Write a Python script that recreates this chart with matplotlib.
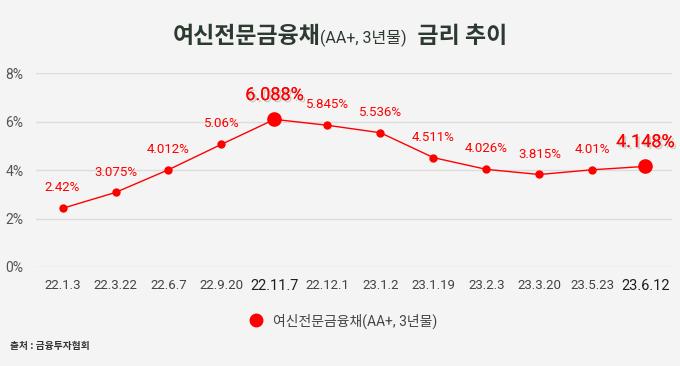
import matplotlib.pyplot as plt
import matplotlib.patheffects as pe
from matplotlib.offsetbox import TextArea, HPacker, AnchoredOffsetbox
from matplotlib.lines import Line2D

plt.rcParams['font.family'] = ['Roboto', 'Noto Sans CJK KR', 'DejaVu Sans']

# 데이터
dates = ['22.1.3', '22.3.22', '22.6.7', '22.9.20', '22.11.7', '22.12.1',
         '23.1.2', '23.1.19', '23.2.3', '23.3.20', '23.5.23', '23.6.12']
rates = [2.42, 3.075, 4.012, 5.06, 6.088, 5.845, 5.536, 4.511, 4.026, 3.815, 4.01, 4.148]
labels = ['2.42%', '3.075%', '4.012%', '5.06%', '6.088%', '5.845%',
          '5.536%', '4.511%', '4.026%', '3.815%', '4.01%', '4.148%']
highlight = ['22.11.7', '23.6.12']

bg = '#f3f4f3'
red = '#ff0000'

fig = plt.figure(figsize=(6.8, 3.66), dpi=100, facecolor=bg)
ax = fig.add_axes([0.053, 0.2705, 0.935, 0.53], facecolor=bg)

x = list(range(len(dates)))
ax.plot(x, rates, color=red, lw=1.0, zorder=3)
for i, d in enumerate(dates):
    big = d in highlight
    ax.plot(i, rates[i], 'o', color=red, ms=9.5 if big else 5, zorder=4)
    if big:
        ax.annotate(labels[i], (i, rates[i]), xytext=(0, 11), textcoords='offset points',
                    ha='center', va='bottom', color=red, fontsize=13,
                    path_effects=[pe.withSimplePatchShadow(offset=(1.5, -1.5), shadow_rgbFace='#c4c4c4', alpha=0.8),
                                  pe.Normal()])
    else:
        ax.annotate(labels[i], (i, rates[i]), xytext=(0, 10), textcoords='offset points',
                    ha='center', va='bottom', color=red, fontsize=9.5)

ax.set_xlim(-0.5, len(dates) - 0.5)
ax.set_ylim(0, 8)
ax.set_yticks([0, 2, 4, 6, 8])
ax.set_yticklabels(['0%', '2%', '4%', '6%', '8%'], color='#555555', fontsize=10)
ax.set_xticks(x)
ax.set_xticklabels(dates, fontsize=9.5)
for t in ax.get_xticklabels():
    if t.get_text() in highlight:
        t.set_color('#1e1e1e')
        t.set_fontsize(10.5)
    else:
        t.set_color('#444444')
ax.tick_params(length=0)
ax.tick_params(axis='x', pad=9)
ax.tick_params(axis='y', pad=9)
ax.grid(axis='y', color='#dcdcdc', lw=1)
ax.set_axisbelow(True)
for s in ax.spines.values():
    s.set_visible(False)

# 제목
kor = ['Noto Sans CJK KR', 'DejaVu Sans']
t1 = TextArea('여신전문금융채', textprops=dict(fontsize=16.5, fontweight='bold', color='#2c3a31', family=kor))
t2 = TextArea('(AA+, 3년물)', textprops=dict(fontsize=11.5, color='#2c3a31'))
t3 = TextArea('  금리 추이', textprops=dict(fontsize=16.5, fontweight='bold', color='#2c3a31', family=kor))
box = HPacker(children=[t1, t2, t3], align='baseline', pad=0, sep=0)
title = AnchoredOffsetbox(loc='center', child=box, pad=0, frameon=False,
                          bbox_to_anchor=(0.5, 0.9), bbox_transform=fig.transFigure, borderpad=0)
fig.add_artist(title)

# 범례
handle = Line2D([], [], marker='o', color=red, lw=0, ms=9)
fig.legend([handle], ['여신전문금융채(AA+, 3년물)'], loc='center', bbox_to_anchor=(0.5, 0.123),
           frameon=False, fontsize=10, handletextpad=0.2, labelcolor='#444444')

fig.text(0.015, 0.046, '출처 : 금융투자협회', fontsize=7, color='#333333', fontweight='bold', family=kor)

fig.savefig('out.png', dpi=100, facecolor=bg)
